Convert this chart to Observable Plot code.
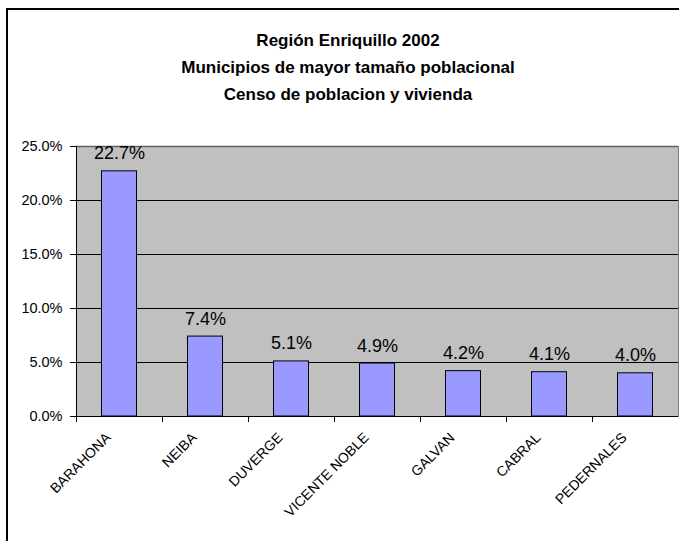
<!DOCTYPE html>
<html>
<head>
<meta charset="utf-8">
<script src="https://cdn.jsdelivr.net/npm/d3@7"></script>
<script src="https://cdn.jsdelivr.net/npm/@observablehq/plot@0.6"></script>
<style>
  html, body { margin: 0; padding: 0; background: #fff; }
  #wrap { position: relative; width: 679px; height: 541px; overflow: hidden; background: #fff;
          font-family: "Liberation Sans", Arial, sans-serif; }
  #border { position: absolute; left: 6px; top: 8px; width: 720px; height: 600px;
            border: 2px solid #000; box-sizing: border-box; pointer-events: none; }
  #title { position: absolute; left: 0; top: 27px; width: 696px; text-align: center;
           font-weight: bold; font-size: 17px; line-height: 27px; color: #000; }
  #chart { position: absolute; left: 0; top: 120px; }
</style>
</head>
<body>
<div id="wrap">
  <div id="title"></div>
  <div id="chart"></div>
  <div id="border"></div>
</div>
<script>
const titleLines = [
  "Región Enriquillo 2002",
  "Municipios de mayor tamaño poblacional",
  "Censo de poblacion y vivienda"
];
const categories = ["BARAHONA", "NEIBA", "DUVERGE", "VICENTE NOBLE", "GALVAN", "CABRAL", "PEDERNALES"];
const shares = [22.7, 7.4, 5.1, 4.9, 4.2, 4.1, 4.0];
const yTicks = [0, 5, 10, 15, 20, 25];

document.getElementById("title").innerHTML = titleLines.map(t => `<div>${t}</div>`).join("");

const data = categories.map((c, i) => ({municipio: c, share: shares[i]}));
const fmt = d => d.toFixed(1) + "%";

const W = 679, ML = 76, MR = 1;
const step = (W - ML - MR) / categories.length;
const barW = 35;

const chart = Plot.plot({
  width: W,
  height: 421,
  marginLeft: ML,
  marginRight: MR,
  marginTop: 26,
  marginBottom: 125,
  style: {fontFamily: "'Liberation Sans', Arial, sans-serif", fontSize: "14.5px", color: "#000", background: "transparent"},
  x: {type: "band", domain: categories, padding: 0, axis: null},
  y: {domain: [0, 25], ticks: yTicks, tickSize: 6, tickPadding: 8, tickFormat: fmt, label: null},
  marks: [
    Plot.frame({fill: "#C0C0C0", stroke: "#808080"}),
    Plot.ruleY(yTicks.filter(t => t > 0 && t < 25), {stroke: "#000"}),
    Plot.ruleY([25], {stroke: "#606060", strokeWidth: 1.5}),
    Plot.barY(data, {x: "municipio", y: "share", fill: "#9999FF", stroke: "#000", strokeWidth: 1,
      insetLeft: (step - barW) / 2, insetRight: (step - barW) / 2}),
    Plot.text(data, {x: "municipio", y: "share", text: d => fmt(d.share), dy: -12,
      lineAnchor: "bottom", fontSize: 18, fill: "#000"}),
    Plot.ruleY([0], {stroke: "#000"}),
    Plot.ruleX([categories[0]], {dx: -step / 2, y1: 0, y2: 25, stroke: "#000"}),
    Plot.ruleX(categories, {dx: -step / 2, y1: 0, y2: 0, insetBottom: -6, stroke: "#000"}),
    Plot.text(categories, {x: d => d, frameAnchor: "bottom", dx: -8, dy: 22, rotate: -45,
      textAnchor: "end", lineAnchor: "bottom", fontSize: 14, fill: "#000", text: d => d})
  ]
});
document.getElementById("chart").appendChild(chart);
</script>
</body>
</html>
